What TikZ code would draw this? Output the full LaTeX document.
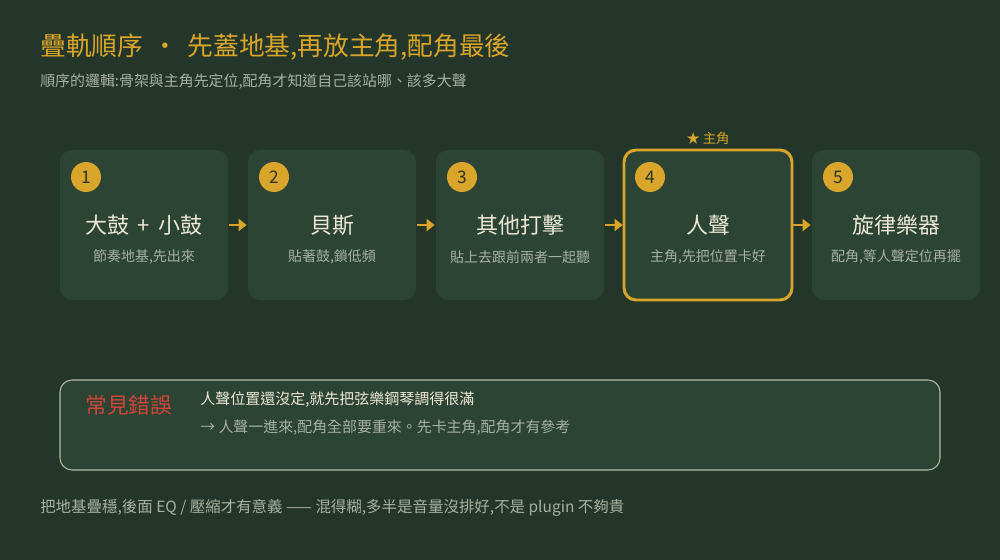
\documentclass[tikz,border=0pt]{standalone}
\usepackage{fontspec}
\setmainfont{Noto Sans CJK TC}
\usetikzlibrary{positioning,arrows.meta}

\definecolor{bgdark}{HTML}{233629}
\definecolor{cardbg}{HTML}{2C4434}
\definecolor{gold}{HTML}{D9A52B}
\definecolor{warnred}{HTML}{D0443A}
\definecolor{lighttext}{HTML}{EDE8D5}
\definecolor{greytext}{HTML}{A7B1A1}
\definecolor{numtext}{HTML}{2A3526}
\definecolor{boxline}{HTML}{B3BDA3}

\tikzset{
  card/.style={fill=cardbg, rounded corners=9pt, minimum width=126pt, minimum height=112.5pt, inner sep=0pt, outer sep=0pt},
  num/.style={circle, fill=gold, minimum size=22.5pt, inner sep=0pt, text=numtext, font=\fontsize{13}{13}\selectfont},
  mainlbl/.style={text=lighttext, font=\fontsize{16.5}{16.5}\selectfont},
  sublbl/.style={text=greytext, font=\fontsize{10.5}{10.5}\selectfont},
  flow/.style={draw=gold, line width=2.2pt, -{Triangle[length=6pt,width=9pt]}, shorten >=1pt, shorten <=1pt}
}

\begin{document}
\begin{tikzpicture}[x=0.75pt, y=-0.75pt]

\fill[bgdark] (0,0) rectangle (1000,560);
\useasboundingbox (0,0) rectangle (1000,560);

\node[anchor=west, inner sep=0pt, text=gold, font=\fontsize{19.3}{19.3}\selectfont] (title) at (40,47)
  {疊軌順序\hspace{7pt}・\hspace{7pt}先蓋地基,再放主角,配角最後};
\node[anchor=west, inner sep=0pt, text=greytext, font=\fontsize{11.2}{11.2}\selectfont] (subtitle) at (40,82)
  {順序的邏輯:骨架與主角先定位,配角才知道自己該站哪、該多大聲};

\node[card] (c1) at (144,225) {};
\node[card, right=15pt of c1] (c2) {};
\node[card, right=15pt of c2] (c3) {};
\node[card, right=15pt of c3, draw=gold, line width=2.2pt] (c4) {};
\node[card, right=15pt of c4] (c5) {};

\node[num] (n1) at ([shift={(26,27)}]c1.north west) {1};
\node[num] (n2) at ([shift={(26,27)}]c2.north west) {2};
\node[num] (n3) at ([shift={(26,27)}]c3.north west) {3};
\node[num] (n4) at ([shift={(26,27)}]c4.north west) {4};
\node[num] (n5) at ([shift={(26,27)}]c5.north west) {5};

\node[mainlbl] (m1) at (c1.center) {大鼓\hspace{6pt}+\hspace{6pt}小鼓};
\node[mainlbl] (m2) at (c2.center) {貝斯};
\node[mainlbl] (m3) at (c3.center) {其他打擊};
\node[mainlbl] (m4) at (c4.center) {人聲};
\node[mainlbl] (m5) at (c5.center) {旋律樂器};

\node[sublbl] (s1) at ([yshift=-24pt]c1.center) {節奏地基,先出來};
\node[sublbl] (s2) at ([yshift=-24pt]c2.center) {貼著鼓,鎖低頻};
\node[sublbl] (s3) at ([yshift=-24pt]c3.center) {貼上去跟前兩者一起聽};
\node[sublbl] (s4) at ([yshift=-24pt]c4.center) {主角,先把位置卡好};
\node[sublbl] (s5) at ([yshift=-24pt]c5.center) {配角,等人聲定位再擺};

\node[above=4pt of c4, inner sep=0pt, text=gold, font=\fontsize{10}{10}\selectfont] (star) {★ 主角};

\draw[flow] (c1) -- (c2);
\draw[flow] (c2) -- (c3);
\draw[flow] (c3) -- (c4);
\draw[flow] (c4) -- (c5);

\node[fill=cardbg, draw=boxline, line width=0.8pt, rounded corners=9pt, minimum width=660pt, minimum height=67.5pt] (mistake) at (500,425) {};
\node[anchor=west, inner sep=0pt, text=warnred, font=\fontsize{16.3}{16.3}\selectfont] (mtitle) at (85,405) {常見錯誤};
\node[anchor=west, inner sep=0pt, text=lighttext, font=\fontsize{11.25}{11.25}\selectfont] (mline1) at (200,400)
  {人聲位置還沒定,就先把弦樂鋼琴調得很滿};
\node[anchor=west, inner sep=0pt, text=greytext, font=\fontsize{11.2}{11.2}\selectfont] (mline2) at (200,428)
  {→ 人聲一進來,配角全部要重來。先卡主角,配角才有參考};

\node[anchor=west, inner sep=0pt, text=greytext, font=\fontsize{11.6}{11.6}\selectfont] (footer) at (40,508)
  {把地基疊穩,後面 EQ / 壓縮才有意義 —— 混得糊,多半是音量沒排好,不是 plugin 不夠貴};

\end{tikzpicture}
\end{document}
